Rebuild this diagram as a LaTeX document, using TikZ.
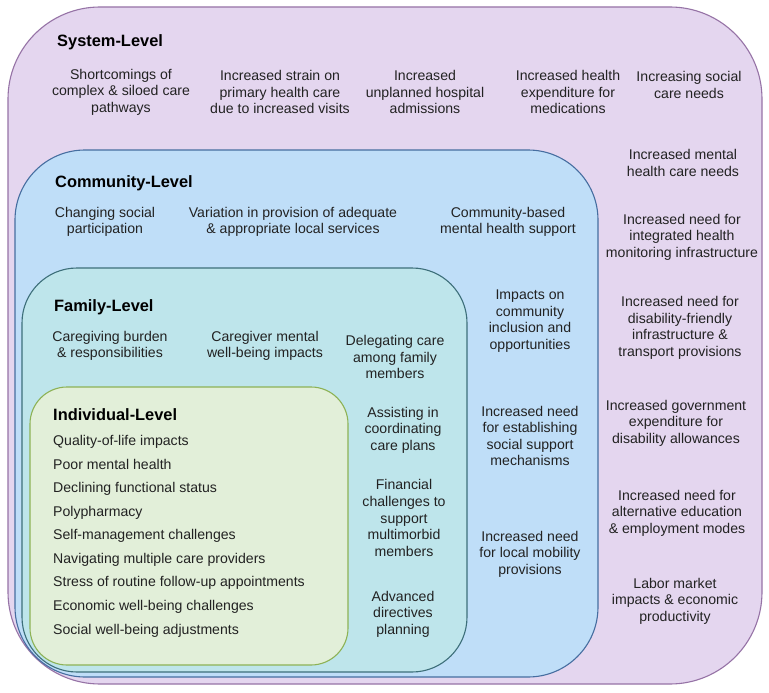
\documentclass[tikz,border=0pt]{standalone}
\usepackage{fontspec}
\setmainfont{Liberation Sans}
\definecolor{sysfill}{HTML}{E4D6EF}
\definecolor{sysdraw}{HTML}{9673A6}
\definecolor{comfill}{HTML}{BFDEF8}
\definecolor{comdraw}{HTML}{466EA0}
\definecolor{famfill}{HTML}{BEE5EB}
\definecolor{famdraw}{HTML}{3D6F7A}
\definecolor{indfill}{HTML}{E2EFD9}
\definecolor{inddraw}{HTML}{8DB255}
\definecolor{txt}{HTML}{222222}
\begin{document}
\begin{tikzpicture}[x=1pt,y=-1pt,
  levelbox/.style={line width=1.1pt},
  item/.style={align=center,inner sep=0pt,text=txt,font=\fontsize{14.1}{16.6}\selectfont},
  head/.style={anchor=west,inner sep=0pt,text height=11.5pt,text depth=3.5pt,text=black,font=\fontsize{16.4}{18}\selectfont\bfseries},
  listitem/.style={anchor=west,inner sep=0pt,text height=10pt,text depth=3pt,text=txt,font=\fontsize{14.1}{16.6}\selectfont}]
\useasboundingbox (0,0) rectangle (769,693);
\fill[white] (0,0) rectangle (769,693);
% boxes
\draw[levelbox,draw=sysdraw,fill=sysfill,rounded corners=92pt] (8,7) rectangle (762,684);
\draw[levelbox,draw=comdraw,fill=comfill,rounded corners=70pt] (15,150) rectangle (598,677);
\draw[levelbox,draw=famdraw,fill=famfill,rounded corners=55pt] (22,268) rectangle (467,672);
\draw[levelbox,draw=inddraw,fill=indfill,rounded corners=37pt] (30,387) rectangle (348,665);
% headings
\node[head] (hsys) at (57,43) {System-Level};
\node[head] (hcom) at (55,183) {Community-Level};
\node[head] (hfam) at (54,307) {Family-Level};
\node[head] (hind) at (53,416) {Individual-Level};
% system row
\node[item] (s1) at (121,92) {Shortcomings of\\complex \& siloed care\\pathways};
\node[item] (s2) at (280,92) {Increased strain on\\primary health care\\due to increased visits};
\node[item] (s3) at (425,92) {Increased\\unplanned hospital\\admissions};
\node[item] (s4) at (568,92) {Increased health\\expenditure for\\medications};
\node[item] (s5) at (689,85) {Increasing social\\care needs};
% system column
\node[item] (s6) at (683,163) {Increased mental\\health care needs};
\node[item] (s7) at (682,237) {Increased need for\\integrated health\\monitoring infrastructure};
\node[item] (s8) at (680,328) {Increased need for\\disability-friendly\\infrastructure \&\\transport provisions};
\node[item] (s9) at (676,423) {Increased government\\expenditure for\\disability allowances};
\node[item] (s10) at (677,513) {Increased need for\\alternative education\\\& employment modes};
\node[item] (s11) at (675,601) {Labor market\\impacts \& economic\\productivity};
% community row
\node[item] (c1) at (105,222) {Changing social\\participation};
\node[item] (c2) at (293,222) {Variation in provision of adequate\\\& appropriate local services};
\node[item] (c3) at (508,222) {Community-based\\mental health support};
% community column
\node[item] (c4) at (530,321) {Impacts on\\community\\inclusion and\\opportunities};
\node[item] (c5) at (530,436) {Increased need\\for establishing\\social support\\mechanisms};
\node[item] (c6) at (530,554) {Increased need\\for local mobility\\provisions};
% family row
\node[item] (f1) at (110,346) {Caregiving burden\\\& responsibilities};
\node[item] (f2) at (265,346) {Caregiver mental\\well-being impacts};
\node[item] (f3) at (395,357) {Delegating care\\among family\\members};
% family column
\node[item] (f4) at (403,430) {Assisting in\\coordinating\\care plans};
\node[item] (f5) at (404,518) {Financial\\challenges to\\support\\multimorbid\\members};
\node[item] (f6) at (403,614) {Advanced\\directives\\planning};
% individual list
\node[listitem] (i1) at (53,442) {Quality-of-life impacts};
\node[listitem] (i2) at (53,466) {Poor mental health};
\node[listitem] (i3) at (53,489) {Declining functional status};
\node[listitem] (i4) at (53,513) {Polypharmacy};
\node[listitem] (i5) at (53,536) {Self-management challenges};
\node[listitem] (i6) at (53,560) {Navigating multiple care providers};
\node[listitem] (i7) at (53,583) {Stress of routine follow-up appointments};
\node[listitem] (i8) at (53,607) {Economic well-being challenges};
\node[listitem] (i9) at (53,631) {Social well-being adjustments};
\end{tikzpicture}
\end{document}
